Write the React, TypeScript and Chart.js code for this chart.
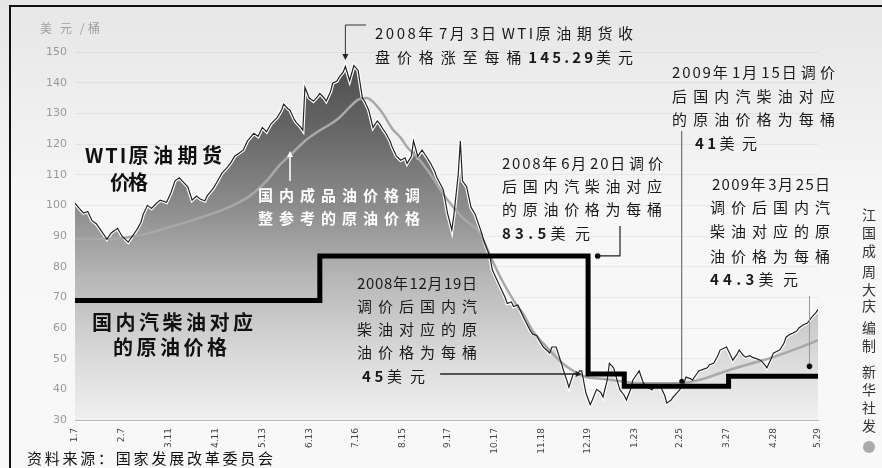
import React, { useEffect, useRef } from "react";
import { Chart, registerables } from "chart.js";
Chart.register(...registerables);

// x = trading-day index counted from the first day shown (2008-01-07)
const wtiT = [
  0, 2, 4, 6, 8, 10, 12, 15, 17, 20,
  22, 25, 27, 29, 31, 32, 34, 36, 38, 40,
  43, 45, 47, 49, 51, 53, 55, 57, 59, 61,
  62, 65, 67, 69, 71, 73, 75, 77, 79, 81,
  84, 86, 88, 90, 92, 95, 97, 98, 100, 101,
  103, 104, 106, 107, 108, 110, 112, 114, 115, 117,
  118, 120, 121, 123, 124, 126, 127, 129, 131, 133,
  135, 136, 138, 140, 142, 143, 145, 146, 148, 149,
  151, 153, 155, 156, 158, 159, 161, 163, 165, 167,
  169, 170, 172, 173, 175, 177, 178, 180, 181, 182,
  184, 186, 188, 189, 191, 192, 194, 195, 196, 198,
  200, 202, 203, 205, 206, 208, 209, 211, 212, 214,
  215, 217, 218, 220, 222, 223, 224, 226, 228, 230,
  231, 232, 234, 236, 237, 238, 240, 242, 243, 245,
  247, 248, 250, 251, 253, 255, 256, 258, 259, 261,
  262, 264, 265, 267, 269, 271, 273, 275, 277, 278,
  280, 281, 283, 284, 286, 287, 289, 290, 292, 293,
  295, 297, 298, 300, 302, 303, 305, 306, 308, 309,
  311, 312, 314, 315, 317, 318, 320, 322, 324, 325,
  327, 328, 330, 331, 333, 334, 336, 337, 339, 340,
  342, 344, 345, 346, 348, 349,
];
const wtiPrice = [
  100.7, 99, 97.5, 98, 95, 94, 92, 89, 91, 92.5,
  90, 88, 90, 92, 94.5, 97, 100, 99, 100.5, 101.7,
  101, 104, 108, 109, 107.5, 106, 101.7, 103, 102, 101.5,
  103, 105.6, 108, 110.5, 112, 113.7, 116, 117, 118, 121,
  123.5, 122.5, 125.4, 124, 126.5, 128.7, 131, 133, 131.5, 131,
  128, 127, 125.5, 124.5, 138.5, 135, 134, 135.5, 136.5, 135,
  134, 137, 139.8, 140.5, 141.7, 143.5, 145.3, 140.7, 145.6, 144,
  135, 134, 131, 125.4, 127.5, 126.7, 124.5, 123.5, 121, 119,
  116, 114.7, 115.5, 113.7, 116, 121, 116, 118, 116, 113.7,
  111, 109, 106.5, 105, 97.4, 92, 97, 110, 121, 108,
  106, 99.4, 97, 95, 91, 88.6, 85, 83, 79, 76,
  73, 70, 68, 68.5, 67, 67.5, 66, 63, 61.6, 59,
  58, 57.5, 56, 53.8, 52.5, 51.8, 53.8, 53.8, 49.5, 45,
  43, 40.7, 45, 45, 46, 46, 38.8, 35, 36.5, 40,
  39, 37.5, 43, 48.5, 47, 42, 39.8, 38, 36.5, 40,
  43, 45, 46, 42, 40.7, 39.8, 41.5, 41, 38, 35.5,
  36.5, 37.5, 39, 39.8, 42, 44, 43.5, 43, 45, 46,
  46.5, 47, 48, 48.5, 51, 52.8, 53.5, 53.8, 51, 49.5,
  51.5, 52.8, 51, 50.5, 51, 50.5, 50, 49.5, 48, 47,
  50, 51.8, 52.5, 52.8, 55, 57, 58, 58.3, 59, 60,
  61, 61.6, 62.5, 63.5, 65, 66,
];

// reference crude price used for domestic fuel price adjustment (smooth grey line)
const refT = [0, 16, 32, 45, 59, 71, 82, 90, 96, 102, 108, 114, 120, 124, 129, 133, 137, 141, 145, 149, 153, 156, 162, 168, 175, 182, 190, 196, 201, 206, 211, 215, 220, 224, 229, 234, 240, 246, 253, 265, 284, 293, 306, 318, 328, 340, 349];
const refPrice = [89, 89, 90.5, 93, 96, 99, 103, 108, 113, 117, 121, 124, 126.5, 128.5, 132, 134.5, 135, 133, 129.5, 125, 122, 119, 114.7, 109, 101.7, 96, 91, 82, 75, 69, 64, 59, 55, 52, 48.5, 46, 44, 43.5, 43, 42, 42, 43, 46, 48.5, 50.5, 53.5, 56];

// crude price corresponding to domestic petrol/diesel prices (step line)
const stepT = [0, 115, 241, 258, 307, 349];
const stepPrice = [69, 83.5, 45, 41, 44.3, 44.3];

const tickT = [0, 22, 44, 66, 88, 110, 132, 154, 175, 197, 219, 241, 263, 284, 306, 328, 349];
const tickLabels = ["1.7", "2.7", "3.11", "4.11", "5.13", "6.13", "7.16", "8.15", "9.17", "10.17", "11.18", "12.19", "1.23", "2.25", "3.27", "4.28", "5.29"];

const yMin = 30;
const yMax = 150;
const yStep = 10;

const FAM = '"Noto Sans CJK SC","Noto Sans",sans-serif';

type Seg = [string, boolean];

const isWide = (ch: string) => ch.charCodeAt(0) > 0x2e80;
const NARROW_RATIO = 0.45;

// draws one line of text spread to `width`; narrow characters get a smaller share of the spacing
function drawLine(ctx: CanvasRenderingContext2D, segs: Seg[], x: number, y: number, size: number, color: string, width?: number) {
  const c: any = ctx;
  const font = (b: boolean) => `${b ? "bold " : ""}${size}px ${FAM}`;
  c.letterSpacing = "0px";
  const runs: { s: string; b: boolean; wide: boolean; w: number }[] = [];
  segs.forEach(([s, b]) => {
    for (const ch of Array.from(s)) {
      const wide = isWide(ch);
      const last = runs[runs.length - 1];
      if (last && last.b === b && last.wide === wide) last.s += ch;
      else runs.push({ s: ch, b, wide, w: 0 });
    }
  });
  let w0 = 0;
  let nW = 0;
  let nN = 0;
  runs.forEach((r) => {
    ctx.font = font(r.b);
    r.w = ctx.measureText(r.s).width;
    w0 += r.w;
    const n = Array.from(r.s).length;
    if (r.wide) nW += n;
    else nN += n;
  });
  const lastRun = runs[runs.length - 1];
  if (lastRun.wide) nW -= 1;
  else nN -= 1;
  let gW = 0;
  if (width !== undefined && nW + nN > 0) {
    gW = (width - w0) / (nW + NARROW_RATIO * nN);
  }
  const gNarrow = gW * NARROW_RATIO;
  ctx.fillStyle = color;
  ctx.textBaseline = "middle";
  ctx.textAlign = "left";
  let cx = x;
  runs.forEach((r) => {
    const g = r.wide ? gW : gNarrow;
    ctx.font = font(r.b);
    c.letterSpacing = g + "px";
    ctx.fillText(r.s, cx, y);
    cx += r.w + g * Array.from(r.s).length;
  });
  c.letterSpacing = "0px";
}

function dot(ctx: CanvasRenderingContext2D, x: number, y: number, r: number, color: string) {
  ctx.beginPath();
  ctx.arc(x, y, r, 0, Math.PI * 2);
  ctx.fillStyle = color;
  ctx.fill();
}

function arrowHead(ctx: CanvasRenderingContext2D, x: number, y: number, dir: "up" | "down" | "right", size: number, color: string) {
  ctx.beginPath();
  if (dir === "down") {
    ctx.moveTo(x, y);
    ctx.lineTo(x - size / 2, y - size);
    ctx.lineTo(x + size / 2, y - size);
  } else if (dir === "up") {
    ctx.moveTo(x, y);
    ctx.lineTo(x - size / 2, y + size);
    ctx.lineTo(x + size / 2, y + size);
  } else {
    ctx.moveTo(x, y);
    ctx.lineTo(x - size, y - size / 2);
    ctx.lineTo(x - size, y + size / 2);
  }
  ctx.closePath();
  ctx.fillStyle = color;
  ctx.fill();
}

const bgPlugin = {
  id: "bg",
  beforeDraw(chart: any) {
    const ctx: CanvasRenderingContext2D = chart.ctx;
    ctx.save();
    const g = ctx.createLinearGradient(0, 0, 0, chart.height);
    g.addColorStop(0, "#e6e6e6");
    g.addColorStop(0.45, "#f7f7f7");
    g.addColorStop(1, "#f8f8f8");
    ctx.fillStyle = g;
    ctx.fillRect(0, 0, chart.width, chart.height);
    ctx.strokeStyle = "#111";
    ctx.lineWidth = 2;
    ctx.beginPath();
    ctx.moveTo(10, chart.height);
    ctx.lineTo(10, 6);
    ctx.lineTo(chart.width, 6);
    ctx.stroke();
    ctx.restore();
  },
};

const annotPlugin = {
  id: "annot",
  afterDraw(chart: any) {
    const ctx: CanvasRenderingContext2D = chart.ctx;
    const xs = chart.scales.x;
    const ys = chart.scales.y;
    ctx.save();

    // peak arrow
    const px = xs.getPixelForValue(127);
    ctx.strokeStyle = "#333";
    ctx.lineWidth = 1;
    ctx.beginPath();
    ctx.moveTo(366, 25);
    ctx.lineTo(px, 25);
    ctx.lineTo(px, 54);
    ctx.stroke();
    arrowHead(ctx, px, 60, "down", 6, "#222");

    // reference price arrow (white)
    const mx = xs.getPixelForValue(101);
    ctx.strokeStyle = "#fff";
    ctx.lineWidth = 1.6;
    ctx.beginPath();
    ctx.moveTo(mx, 181);
    ctx.lineTo(mx, 156);
    ctx.stroke();
    arrowHead(ctx, mx, 151, "up", 6, "#fff");

    // Jun 20 leader
    const bx = xs.getPixelForValue(256);
    const bdx = xs.getPixelForValue(245.5);
    const by = ys.getPixelForValue(83.5);
    ctx.strokeStyle = "#222";
    ctx.lineWidth = 1.2;
    ctx.beginPath();
    ctx.moveTo(bx, 226);
    ctx.lineTo(bx, by);
    ctx.lineTo(bdx, by);
    ctx.stroke();
    dot(ctx, bdx, by, 2.8, "#111");

    // Jan 15 leader
    const cx = xs.getPixelForValue(285);
    const cy = ys.getPixelForValue(42.6);
    ctx.strokeStyle = "#555";
    ctx.lineWidth = 1;
    ctx.beginPath();
    ctx.moveTo(cx, 131);
    ctx.lineTo(cx, cy);
    ctx.stroke();
    dot(ctx, cx, cy, 2.5, "#111");

    // Mar 25 leader
    const dx = xs.getPixelForValue(345);
    const dy = ys.getPixelForValue(47.5);
    ctx.strokeStyle = "#999";
    ctx.lineWidth = 1;
    ctx.beginPath();
    ctx.moveTo(dx, 296);
    ctx.lineTo(dx, dy);
    ctx.stroke();
    dot(ctx, dx, dy, 2.8, "#111");

    // Dec 19 leader
    const ex0 = xs.getPixelForValue(171.5);
    const ex1 = xs.getPixelForValue(238);
    const ey = ys.getPixelForValue(45);
    ctx.strokeStyle = "#222";
    ctx.lineWidth = 1.5;
    ctx.beginPath();
    ctx.moveTo(ex0, ey);
    ctx.lineTo(ex1 - 4, ey);
    ctx.stroke();
    arrowHead(ctx, ex1, ey, "right", 6, "#222");

    const T = "#1a1a1a";
    // peak annotation
    drawLine(ctx, [["2008年7月3日WTI原油期货收", false]], 375, 33, 15, T, 258);
    drawLine(ctx, [["盘价格涨至每桶", false], ["145.29", true], ["美元", false]], 375, 57, 15, T, 258);

    // WTI label
    drawLine(ctx, [["WTI原油期货", true]], 85, 155, 20, "#111", 137);
    drawLine(ctx, [["价格", true]], 110, 182, 20, "#111", 38);

    // white label
    drawLine(ctx, [["国内成品油价格调", true]], 258, 195, 15, "#fff", 162);
    drawLine(ctx, [["整参考的原油价格", true]], 258, 218, 15, "#fff", 162);

    // domestic label
    drawLine(ctx, [["国内汽柴油对应", true]], 92, 322, 20, "#111", 161);
    drawLine(ctx, [["的原油价格", true]], 113, 347, 20, "#111", 114);

    // Jun 20
    drawLine(ctx, [["2008年6月20日调价", false]], 502, 163, 15, T, 161);
    drawLine(ctx, [["后国内汽柴油对应", false]], 502, 186, 15, T, 160);
    drawLine(ctx, [["的原油价格为每桶", false]], 502, 209, 15, T, 160);
    drawLine(ctx, [["83.5", true], ["美元", false]], 502, 233, 15, T, 88);

    // Jan 15
    drawLine(ctx, [["2009年1月15日调价", false]], 672, 72, 15, T, 163);
    drawLine(ctx, [["后国内汽柴油对应", false]], 672, 96, 15, T, 163);
    drawLine(ctx, [["的原油价格为每桶", false]], 672, 119, 15, T, 163);
    drawLine(ctx, [["41", true], ["美元", false]], 695, 143, 15, T, 62);

    // Mar 25
    drawLine(ctx, [["2009年3月25日", false]], 712, 184, 15, T, 118);
    drawLine(ctx, [["调价后国内汽", false]], 710, 207, 15, T, 120);
    drawLine(ctx, [["柴油对应的原", false]], 710, 231, 15, T, 120);
    drawLine(ctx, [["油价格为每桶", false]], 710, 256, 15, T, 120);
    drawLine(ctx, [["44.3", true], ["美元", false]], 710, 279, 15, T, 88);

    // Dec 19
    drawLine(ctx, [["2008年12月19日", false]], 357, 283, 15, T, 120);
    drawLine(ctx, [["调价后国内汽", false]], 357, 306, 15, T, 120);
    drawLine(ctx, [["柴油对应的原", false]], 357, 329, 15, T, 120);
    drawLine(ctx, [["油价格为每桶", false]], 357, 352, 15, T, 120);
    drawLine(ctx, [["45", true], ["美元", false]], 362, 376, 15, T, 63);

    // unit & source
    drawLine(ctx, [["美元/桶", false]], 40, 28, 12, "#a0a0a0", 60);
    drawLine(ctx, [["资料来源：国家发展改革委员会", false]], 27, 458, 15, "#111", 246);

    // vertical credit
    const credit = ["江", "国", "成", "周", "大", "庆", "编", "制", "新", "华", "社", "发"];
    const creditY = [215, 233, 251, 272, 290, 306, 328, 346, 372, 390, 408, 426];
    ctx.font = `14px ${FAM}`;
    ctx.fillStyle = "#333";
    ctx.textAlign = "center";
    ctx.textBaseline = "middle";
    credit.forEach((ch, i) => ctx.fillText(ch, 869, creditY[i]));
    dot(ctx, 869, 447, 6, "#aaa");

    ctx.restore();
  },
};

export default function App() {
  const ref = useRef<HTMLCanvasElement>(null);
  useEffect(() => {
    const canvas = ref.current!;
    const wti = wtiT.map((x, i) => ({ x, y: wtiPrice[i] }));
    const refLine = refT.map((x, i) => ({ x, y: refPrice[i] }));
    const steps = stepT.map((x, i) => ({ x, y: stepPrice[i] }));
    const fillGrad = (ctx: any) => {
      const area = ctx.chart.chartArea;
      if (!area) return "#999";
      const g = ctx.chart.ctx.createLinearGradient(0, area.top, 0, area.bottom);
      g.addColorStop(0, "#4a4a4a");
      g.addColorStop(0.21, "#666666");
      g.addColorStop(0.42, "#8c8c8c");
      g.addColorStop(0.62, "#b8b8b8");
      g.addColorStop(0.83, "#dadada");
      g.addColorStop(1, "#f0f0f0");
      return g;
    };
    const chart = new Chart(canvas, {
      type: "line",
      data: {
        datasets: [
          {
            label: "fill",
            data: wti,
            fill: "start",
            backgroundColor: fillGrad,
            borderColor: "#ffffff",
            borderWidth: 3.5,
            pointRadius: 0,
            order: 4,
          },
          {
            label: "国内成品油价格调整参考的原油价格",
            data: refLine,
            borderColor: "#a8a8a8",
            borderWidth: 2.5,
            pointRadius: 0,
            cubicInterpolationMode: "monotone",
            fill: false,
            order: 3,
          },
          {
            label: "WTI原油期货价格",
            data: wti,
            borderColor: "#222",
            borderWidth: 1.2,
            pointRadius: 0,
            fill: false,
            order: 2,
          },
          {
            label: "国内汽柴油对应的原油价格",
            data: steps,
            borderColor: "#000",
            borderWidth: 5,
            pointRadius: 0,
            stepped: "before",
            borderJoinStyle: "miter",
            fill: false,
            order: 1,
          },
        ],
      },
      options: {
        animation: false,
        responsive: false,
        devicePixelRatio: 1,
        layout: { padding: { left: 0, top: 52, right: 64, bottom: 0 } },
        plugins: { legend: { display: false }, tooltip: { enabled: false } },
        scales: {
          x: {
            type: "linear",
            min: 0,
            max: 349,
            afterBuildTicks: (scale: any) => {
              scale.ticks = tickT.map((v) => ({ value: v }));
            },
            afterFit: (scale: any) => {
              scale.height = 48;
            },
            ticks: {
              autoSkip: false,
              minRotation: 90,
              maxRotation: 90,
              padding: 4,
              color: "#444",
              font: { size: 9, family: "DejaVu Sans" },
              callback: (_v: any, i: number) => tickLabels[i],
            },
            grid: { display: false, drawTicks: true, tickLength: 4 },
            border: { color: "#b8b8b8", width: 1 },
          },
          y: {
            min: yMin,
            max: yMax,
            afterFit: (scale: any) => {
              scale.width = 75;
            },
            ticks: {
              stepSize: yStep,
              padding: 8,
              color: "#9a9a9a",
              font: { size: 11, family: "DejaVu Sans" },
            },
            grid: { color: "rgba(0,0,0,0.05)", drawTicks: false },
            border: { display: false },
          },
        },
      },
      plugins: [bgPlugin, annotPlugin],
    } as any);
    return () => chart.destroy();
  }, []);
  return (
    <div style={{ position: "fixed", left: 0, top: 0, width: 882, height: 468, background: "#fff" }}>
      <canvas ref={ref} width={882} height={468} style={{ width: 882, height: 468, display: "block" }} />
    </div>
  );
}
